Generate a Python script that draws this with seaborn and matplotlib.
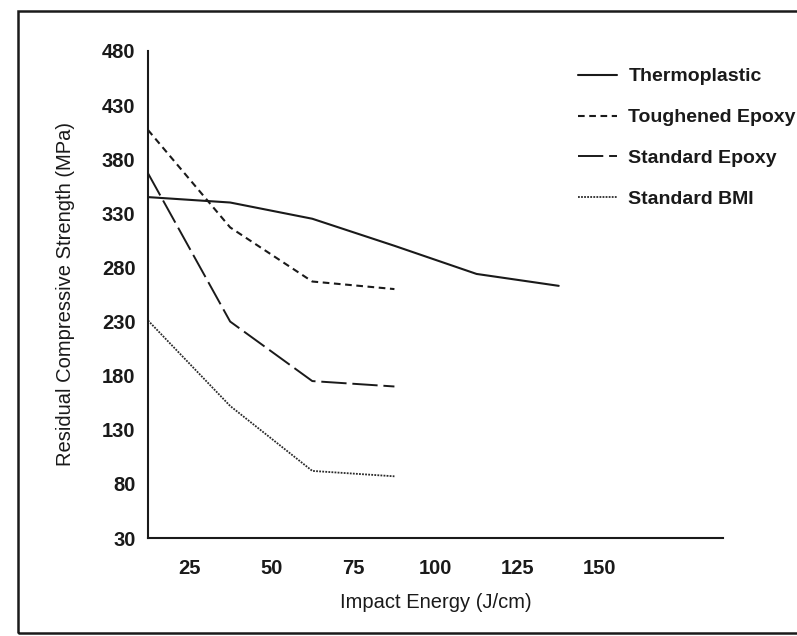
import matplotlib
matplotlib.use("Agg")
import matplotlib.pyplot as plt
from matplotlib.patches import Rectangle
import seaborn as sns
import pandas as pd

# ---- data ----
energy_long = [12.5, 37.5, 62.5, 87.5, 112.5, 137.5]
energy_short = [12.5, 37.5, 62.5, 87.5]
thermoplastic = [345, 340, 325, 300, 274, 263]
toughened_epoxy = [407, 317, 267, 260]
standard_epoxy = [367, 230, 175, 170]
standard_bmi = [231, 152, 92, 87]

series_names = ["Thermoplastic", "Toughened Epoxy", "Standard Epoxy", "Standard BMI"]
x_ticks = [25, 50, 75, 100, 125, 150, 175]
x_tick_labels = ["25", "50", "75", "100", "125", "150", ""]
y_ticks = [30, 80, 130, 180, 230, 280, 330, 380, 430, 480]
x_label = "Impact Energy (J/cm)"
y_label = "Residual Compressive Strength (MPa)"

sns.set_style("white")
plt.rcParams["font.family"] = ["Liberation Sans", "DejaVu Sans"]

W, H = 797, 636
fig = plt.figure(figsize=(W / 100, H / 100), dpi=100)
ax = fig.add_axes([148 / W, 1 - 538 / H, (723 - 148) / W, (538 - 51) / H])

styles = [
    dict(lw=1.5, ls="-", color="#1a1a1a"),
    dict(lw=1.5, ls=(0, (3.2, 2.2)), color="#1a1a1a"),
    dict(lw=1.4, ls=(0, (13, 3)), color="#1a1a1a"),
    dict(lw=1.3, ls=(0, (1, 0.7)), color="#2a2a2a"),
]
data = [
    (energy_long, thermoplastic),
    (energy_short, toughened_epoxy),
    (energy_short, standard_epoxy),
    (energy_short, standard_bmi),
]
for name, (xs, ys), st in zip(series_names, data, styles):
    df = pd.DataFrame({"x": xs, "y": ys})
    sns.lineplot(data=df, x="x", y="y", ax=ax, label=name,
                 color=st["color"], linewidth=st["lw"], linestyle=st["ls"])

ax.set_xlim(12.5, 187.5)
ax.set_ylim(30, 480)
ax.set_xticks(x_ticks)
ax.set_xticklabels(x_tick_labels)
ax.set_yticks(y_ticks)
for s in ["top", "right"]:
    ax.spines[s].set_visible(False)
for s in ["left", "bottom"]:
    ax.spines[s].set_color("#1a1a1a")
    ax.spines[s].set_linewidth(1.5)
ax.tick_params(axis="both", direction="out", length=5, width=1.2, color="#1a1a1a",
               labelsize=14.5, labelcolor="#1a1a1a", pad=4)
ax.tick_params(axis="x", pad=10)
for lab in ax.get_xticklabels() + ax.get_yticklabels():
    lab.set_fontweight("bold")

ax.set_xlabel(x_label, fontsize=14.5, color="#1a1a1a", labelpad=11)
ax.set_ylabel(y_label, fontsize=14.5, color="#1a1a1a", labelpad=19)

leg = ax.legend(loc="upper left", bbox_to_anchor=(570 / W, 1 - 60 / H),
                bbox_transform=fig.transFigure, frameon=False,
                prop={"size": 14, "weight": "bold"}, handlelength=2.0,
                handletextpad=0.6, labelspacing=1.2, borderaxespad=0)
for t in leg.get_texts():
    t.set_color("#1a1a1a")

fig.patches.append(Rectangle((18 / W, 3 / H), 1.0, (633 - 11) / H, transform=fig.transFigure,
                             fill=False, edgecolor="#1a1a1a", linewidth=1.8, figure=fig))

fig.savefig("out.png", dpi=100)
